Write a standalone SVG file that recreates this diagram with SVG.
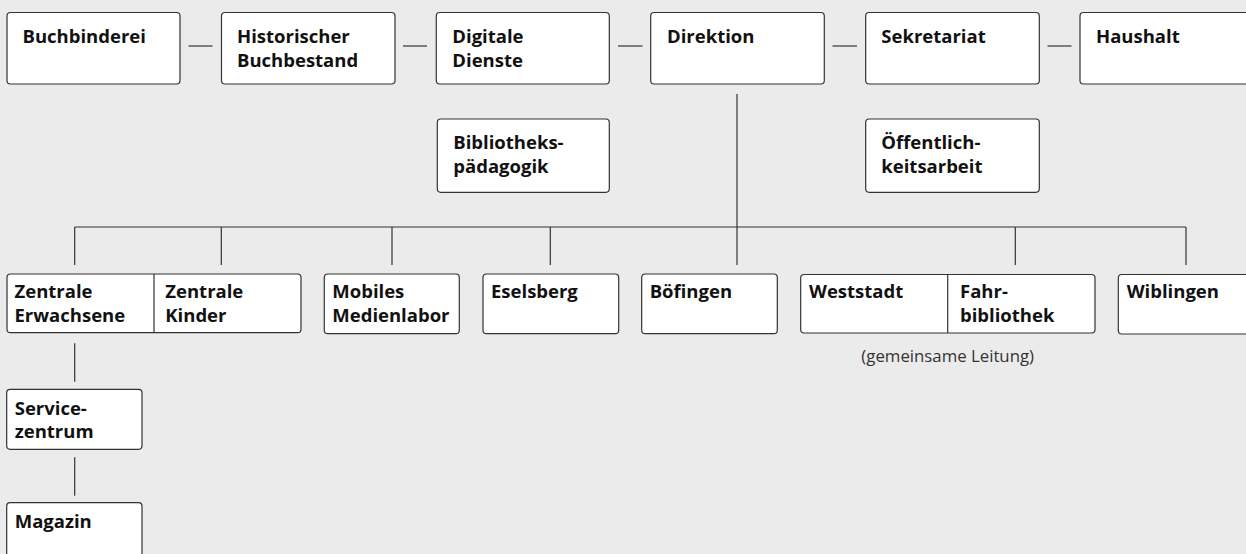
<svg xmlns="http://www.w3.org/2000/svg" width="1246" height="554" viewBox="0 0 1246 554">
<style>
.bg{fill:#ebebeb}
.box{fill:#ffffff;stroke:#333333;stroke-width:1.2}
.ln{stroke:#333333;stroke-width:1.2;fill:none}
.t{font-family:"Open Sans","Liberation Sans",sans-serif;font-weight:bold;font-size:18.5px;fill:#111111}
.note{font-family:"Open Sans","Liberation Sans",sans-serif;font-size:16.8px;fill:#333333}
</style>
<rect class="bg" x="0" y="0" width="1246" height="554"/>
<g id="connectors">
<line class="ln" x1="188.5" y1="46" x2="212.5" y2="46"/>
<line class="ln" x1="403" y1="46" x2="427" y2="46"/>
<line class="ln" x1="618" y1="46" x2="642.5" y2="46"/>
<line class="ln" x1="832.5" y1="46" x2="857" y2="46"/>
<line class="ln" x1="1047.5" y1="46" x2="1071.5" y2="46"/>
<line class="ln" x1="737" y1="94" x2="737" y2="265"/>
<line class="ln" x1="74.7" y1="227" x2="1186" y2="227"/>
<line class="ln" x1="74.7" y1="227" x2="74.7" y2="265"/>
<line class="ln" x1="221.3" y1="227" x2="221.3" y2="265"/>
<line class="ln" x1="392" y1="227" x2="392" y2="265"/>
<line class="ln" x1="550.3" y1="227" x2="550.3" y2="265"/>
<line class="ln" x1="1015.3" y1="227" x2="1015.3" y2="265"/>
<line class="ln" x1="1186" y1="227" x2="1186" y2="265"/>
<line class="ln" x1="74.7" y1="343.3" x2="74.7" y2="381.7"/>
<line class="ln" x1="74.7" y1="457.3" x2="74.7" y2="495.7"/>
</g>
<g id="buchbinderei"><rect class="box" x="7" y="12.5" width="173" height="71.5" rx="3.5"/><text class="t" x="22.5" y="42.7">Buchbinderei</text></g>
<g id="historischer-buchbestand"><rect class="box" x="221.5" y="12.5" width="173.5" height="71.5" rx="3.5"/><text class="t" x="237" y="42.7">Historischer</text><text class="t" x="237" y="66.7">Buchbestand</text></g>
<g id="digitale-dienste"><rect class="box" x="436.3" y="12.5" width="173" height="71.5" rx="3.5"/><text class="t" x="452.3" y="42.7">Digitale</text><text class="t" x="452.3" y="66.7">Dienste</text></g>
<g id="direktion"><rect class="box" x="650.7" y="12.5" width="173.6" height="71.5" rx="3.5"/><text class="t" x="667" y="42.7">Direktion</text></g>
<g id="sekretariat"><rect class="box" x="865.7" y="12.5" width="173.6" height="71.5" rx="3.5"/><text class="t" x="881.3" y="42.7">Sekretariat</text></g>
<g id="haushalt"><rect class="box" x="1080" y="12.5" width="175" height="71.5" rx="3.5"/><text class="t" x="1096" y="42.7">Haushalt</text></g>
<g id="bibliothekspaedagogik"><rect class="box" x="437.3" y="119" width="172" height="73.3" rx="3.5"/><text class="t" x="453.3" y="149.3">Bibliotheks-</text><text class="t" x="453.3" y="173">pädagogik</text></g>
<g id="oeffentlichkeitsarbeit"><rect class="box" x="865.7" y="119" width="173.6" height="73.3" rx="3.5"/><text class="t" x="881.3" y="149.3">Öffentlich-</text><text class="t" x="881.3" y="173">keitsarbeit</text></g>
<g id="zentrale"><rect class="box" x="7" y="274" width="294" height="58.7" rx="3.5"/><line class="ln" x1="154" y1="274" x2="154" y2="332.7"/><text class="t" x="14.5" y="297.7">Zentrale</text><text class="t" x="14.5" y="321.7">Erwachsene</text><text class="t" x="165.3" y="297.7">Zentrale</text><text class="t" x="165.3" y="321.7">Kinder</text></g>
<g id="mobiles-medienlabor"><rect class="box" x="324.3" y="274" width="135" height="59.7" rx="3.5"/><text class="t" x="332.3" y="297.7">Mobiles</text><text class="t" x="332.3" y="321.7">Medienlabor</text></g>
<g id="eselsberg"><rect class="box" x="483" y="274" width="135.7" height="59.7" rx="3.5"/><text class="t" x="491" y="297.7">Eselsberg</text></g>
<g id="boefingen"><rect class="box" x="641.7" y="274" width="135.6" height="59.7" rx="3.5"/><text class="t" x="649.7" y="297.7">Böfingen</text></g>
<g id="weststadt-fahrbibliothek"><rect class="box" x="800.7" y="274.5" width="294.3" height="58.5" rx="3.5"/><line class="ln" x1="947.7" y1="274.5" x2="947.7" y2="333"/><text class="t" x="809" y="297.7">Weststadt</text><text class="t" x="960" y="297.7">Fahr-</text><text class="t" x="960" y="321.7">bibliothek</text><text class="note" x="947.7" y="361.5" text-anchor="middle">(gemeinsame Leitung)</text></g>
<g id="wiblingen"><rect class="box" x="1118.3" y="274.5" width="140" height="59.5" rx="3.5"/><text class="t" x="1126.7" y="297.7">Wiblingen</text></g>
<g id="servicezentrum"><rect class="box" x="6.7" y="389.3" width="135.3" height="60" rx="3.5"/><text class="t" x="14.7" y="415.3">Service-</text><text class="t" x="14.7" y="438.3">zentrum</text></g>
<g id="magazin"><rect class="box" x="6.7" y="502.7" width="135.3" height="60" rx="3.5"/><text class="t" x="14.7" y="527.7">Magazin</text></g>
</svg>
